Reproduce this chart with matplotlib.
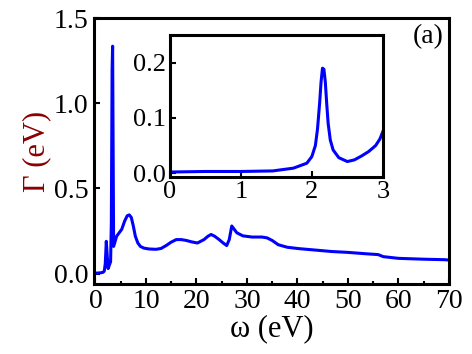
import matplotlib
matplotlib.use("Agg")
import matplotlib.pyplot as plt
from matplotlib.ticker import MultipleLocator, FormatStrFormatter

plt.rcParams['font.family'] = ['Liberation Serif', 'DejaVu Serif']

# main panel: damping Gamma vs energy omega
omega = [0, 1.0, 1.5, 1.75, 1.95, 2.15, 2.5, 3.0, 3.15, 3.3, 3.4, 3.6,
         4.2, 5.2, 5.8, 6.3, 6.7, 7.1, 7.5, 7.9, 8.4, 8.9, 9.6, 10.6, 12, 13, 14, 15, 16, 17, 18,
         19, 20.2, 21.5, 22.3, 22.9, 23.6, 24.5, 25.3, 26.0, 26.5, 27.0, 27.5, 28.0, 29.2, 31, 33,
         34.0, 35.0, 36.2, 38, 40.3, 43, 46.8, 50, 53.5, 56, 57, 60, 65, 69.2, 70]
gamma = [0.003, 0.005, 0.008, 0.015, 0.06, 0.19, 0.03, 0.07, 0.30, 1.2, 1.335, 0.16,
         0.22, 0.26, 0.31, 0.34, 0.345, 0.33, 0.28, 0.22, 0.18, 0.16, 0.15, 0.145, 0.143, 0.148, 0.165, 0.185, 0.2, 0.2, 0.195,
         0.187, 0.18, 0.2, 0.22, 0.23, 0.22, 0.2, 0.18, 0.165, 0.2, 0.28, 0.26, 0.24, 0.222, 0.215, 0.215,
         0.21, 0.195, 0.17, 0.155, 0.147, 0.14, 0.13, 0.125, 0.117, 0.112, 0.1, 0.09, 0.085, 0.082, 0.08]

# inset: low-energy zoom
omega_in = [0, 0.5, 1.0, 1.45, 1.74, 1.93, 2.0, 2.05, 2.08, 2.11, 2.13, 2.15, 2.17, 2.19,
            2.21, 2.23, 2.26, 2.3, 2.38, 2.5, 2.6, 2.7, 2.8, 2.9, 2.96, 3.0]
gamma_in = [0.002, 0.003, 0.003, 0.004, 0.009, 0.018, 0.03, 0.05, 0.08, 0.127, 0.165, 0.19, 0.188, 0.165,
            0.125, 0.09, 0.06, 0.042, 0.028, 0.021, 0.024, 0.031, 0.039, 0.05, 0.062, 0.075]

fig = plt.figure(figsize=(4.72, 3.54), dpi=100)
ax = fig.add_axes([0.199, 0.198, 0.752, 0.751])
ax.plot(omega, gamma, color='#0000ff', lw=2.2)
ax.set_xlim(-0.3, 70)
ax.set_ylim(-0.06, 1.5)
ax.xaxis.set_major_locator(MultipleLocator(10))
ax.xaxis.set_minor_locator(MultipleLocator(5))
ax.yaxis.set_major_locator(MultipleLocator(0.5))
ax.yaxis.set_major_formatter(FormatStrFormatter('%.1f'))
ax.tick_params(which='both', direction='in', labelsize=20, width=1.5, pad=4)
ax.tick_params(which='major', length=4)
ax.tick_params(which='minor', length=2.5)
for s in ax.spines.values():
    s.set_linewidth(2.2)
ax.set_xlabel('ω (eV)', fontsize=22, labelpad=0)
ax.set_ylabel('Γ (eV)', fontsize=22, color='#8b0000', labelpad=2)
ax.text(0.985, 0.93, '(a)', transform=ax.transAxes, ha='right', va='center', fontsize=20)

axin = fig.add_axes([0.360, 0.5, 0.451, 0.401])
axin.plot(omega_in, gamma_in, color='#0000ff', lw=2.2)
axin.set_xlim(0, 3)
axin.set_ylim(-0.007, 0.25)
axin.xaxis.set_major_locator(MultipleLocator(1))
axin.yaxis.set_major_locator(MultipleLocator(0.1))
axin.yaxis.set_major_formatter(FormatStrFormatter('%.1f'))
axin.tick_params(direction='in', labelsize=19, length=4, width=1.5, pad=3)
for s in axin.spines.values():
    s.set_linewidth(2.2)

fig.savefig('out.png', dpi=100)
